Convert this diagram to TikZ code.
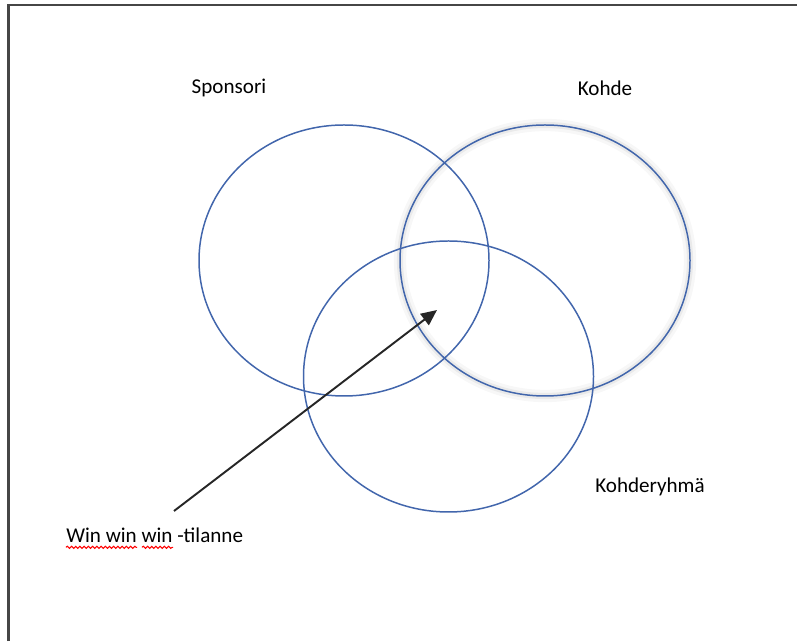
\documentclass[tikz,border=0pt]{standalone}
\usepackage{fontspec}
\setmainfont{Carlito}
\usetikzlibrary{shapes.geometric,arrows.meta,decorations.pathmorphing}
\definecolor{vennblue}{RGB}{66,102,172}
\definecolor{framegray}{RGB}{70,70,70}

\begin{document}
\begin{tikzpicture}[
    venn/.style={ellipse, draw=vennblue, line width=0.85pt, minimum width=5.8cm, minimum height=5.42cm, inner sep=0pt},
    glow/.style={ellipse, draw=black, minimum width=5.8cm, minimum height=5.42cm, inner sep=0pt},
    lbl/.style={font=\fontsize{12}{14}\selectfont, inner sep=0pt},
    arrow/.style={-{Triangle[length=9pt,width=8pt]}, line width=1.1pt, draw=black!85},
    spell/.style={draw=red, line width=0.6pt, decorate, decoration={snake, amplitude=0.6pt, segment length=2.4pt}}
]
\useasboundingbox (0,0) rectangle (15.94,12.82);

% Frame (top and left edge only)
\draw[framegray, line width=1.2pt] (0.17,0) -- (0.17,12.72) -- (15.94,12.72);

% Soft shadow round the Kohde circle
\node[glow, line width=7pt, draw opacity=0.03] at (10.9,7.61) {};
\node[glow, line width=3.5pt, draw opacity=0.05] at (10.9,7.61) {};

% The three sets
\node[venn] (sponsori) at (6.88,7.61) {};
\node[venn] (kohde) at (10.9,7.61) {};
\node[venn] (ryhma) at (8.97,5.29) {};

% Set names
\node[lbl] (lsponsori) at (4.58,11.06) {Sponsori};
\node[lbl] (lkohde) at (12.1,11.06) {Kohde};
\node[lbl] (lryhma) at (13.0,3.08) {Kohderyhmä};

% Common area
\node[lbl, anchor=west] (winwin) at (1.32,2.12) {Win win win -tilanne};
\coordinate (start) at (3.48,2.6);
\coordinate (middle) at (8.74,6.62);
\draw[arrow] (start) -- (middle);

% Spell check marks
\draw[spell] ([yshift=-2.6pt]winwin.south west) -- ++(1.42,0);
\draw[spell] ([xshift=1.52cm,yshift=-2.6pt]winwin.south west) -- ++(0.62,0);

\end{tikzpicture}
\end{document}
